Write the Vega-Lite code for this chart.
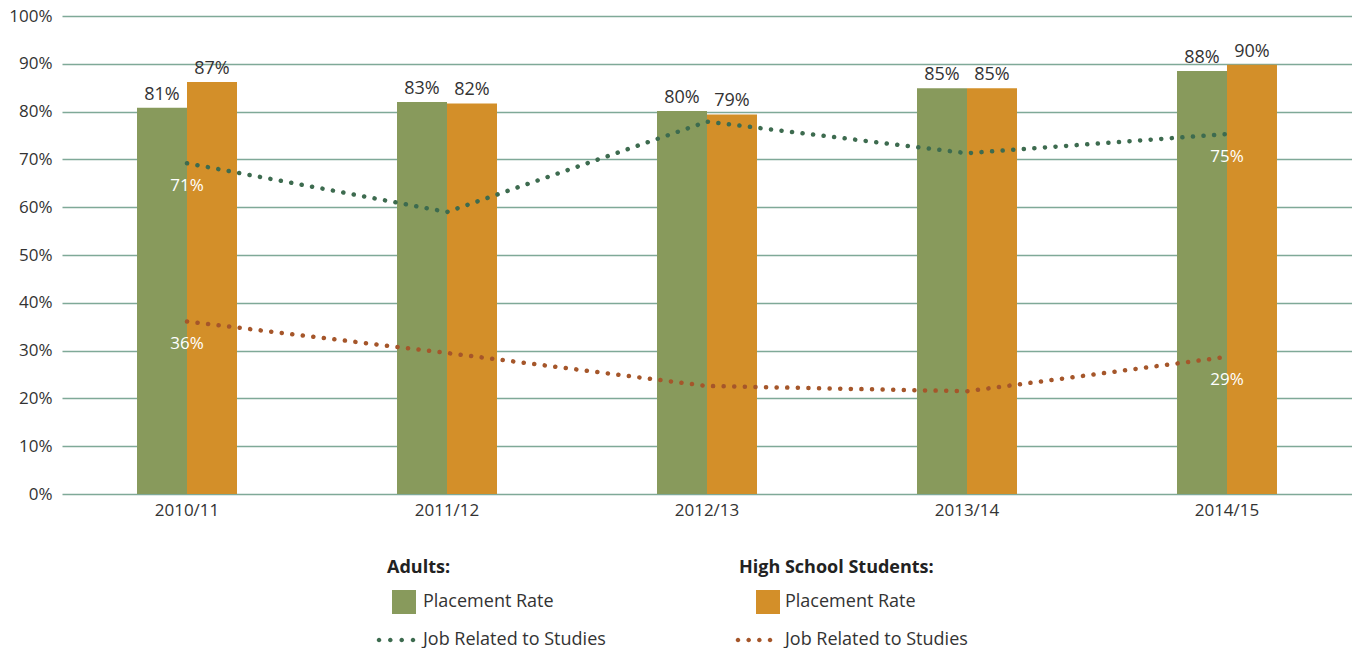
{
  "$schema": "https://vega.github.io/schema/vega-lite/v6.json",
  "autosize": "none",
  "width": 1290,
  "height": 478,
  "padding": {"left": 62, "top": 16, "right": 0, "bottom": 154},
  "background": "white",
  "config": {
    "view": {"stroke": null},
    "font": "Open Sans",
    "axis": {"labelFont": "Open Sans", "labelFontSize": 17, "labelColor": "#333333"}
  },
  "data": {
    "values": [
      {"year": "2010/11", "group": "Adults", "measure": "Placement Rate", "value": 80.8, "label": "81%"},
      {"year": "2011/12", "group": "Adults", "measure": "Placement Rate", "value": 82.0, "label": "83%"},
      {"year": "2012/13", "group": "Adults", "measure": "Placement Rate", "value": 80.1, "label": "80%"},
      {"year": "2013/14", "group": "Adults", "measure": "Placement Rate", "value": 84.9, "label": "85%"},
      {"year": "2014/15", "group": "Adults", "measure": "Placement Rate", "value": 88.5, "label": "88%"},
      {"year": "2010/11", "group": "HS", "measure": "Placement Rate", "value": 86.2, "label": "87%"},
      {"year": "2011/12", "group": "HS", "measure": "Placement Rate", "value": 81.7, "label": "82%"},
      {"year": "2012/13", "group": "HS", "measure": "Placement Rate", "value": 79.4, "label": "79%"},
      {"year": "2013/14", "group": "HS", "measure": "Placement Rate", "value": 84.9, "label": "85%"},
      {"year": "2014/15", "group": "HS", "measure": "Placement Rate", "value": 89.8, "label": "90%"},
      {"year": "2010/11", "group": "Adults", "measure": "Job Related to Studies", "value": 69.2, "label": "71%"},
      {"year": "2011/12", "group": "Adults", "measure": "Job Related to Studies", "value": 59.0, "label": ""},
      {"year": "2012/13", "group": "Adults", "measure": "Job Related to Studies", "value": 77.9, "label": ""},
      {"year": "2013/14", "group": "Adults", "measure": "Job Related to Studies", "value": 71.3, "label": ""},
      {"year": "2014/15", "group": "Adults", "measure": "Job Related to Studies", "value": 75.3, "label": "75%"},
      {"year": "2010/11", "group": "HS", "measure": "Job Related to Studies", "value": 36.1, "label": "36%"},
      {"year": "2011/12", "group": "HS", "measure": "Job Related to Studies", "value": 29.5, "label": ""},
      {"year": "2012/13", "group": "HS", "measure": "Job Related to Studies", "value": 22.6, "label": ""},
      {"year": "2013/14", "group": "HS", "measure": "Job Related to Studies", "value": 21.5, "label": ""},
      {"year": "2014/15", "group": "HS", "measure": "Job Related to Studies", "value": 28.7, "label": "29%"}
    ]
  },
  "encoding": {
    "x": {
      "field": "year", "type": "nominal",
      "scale": {"type": "band", "paddingInner": 0.6154, "paddingOuter": 0.2885},
      "axis": {"title": null, "domain": false, "ticks": false, "grid": false, "labelAngle": 0, "labelPadding": 8}
    },
    "y": {
      "field": "value", "type": "quantitative",
      "scale": {"domain": [0, 100], "nice": false},
      "axis": {
        "title": null, "domain": false, "ticks": false,
        "values": [0, 10, 20, 30, 40, 50, 60, 70, 80, 90, 100],
        "labelExpr": "datum.value + '%'",
        "labelPadding": 10,
        "gridColor": "#7fa998", "gridWidth": 1.5, "gridOpacity": 1
      }
    }
  },
  "layer": [
    {
      "transform": [{"filter": "datum.measure === 'Placement Rate'"}],
      "mark": {"type": "bar"},
      "encoding": {
        "xOffset": {"field": "group", "type": "nominal", "scale": {"domain": ["Adults", "HS"], "paddingInner": 0, "paddingOuter": 0}},
        "fill": {"field": "group", "type": "nominal", "scale": {"domain": ["Adults", "HS"], "range": ["#889a5c", "#d38f29"]}, "legend": null}
      }
    },
    {
      "transform": [{"filter": "datum.measure === 'Placement Rate'"}],
      "mark": {"type": "text", "baseline": "alphabetic", "dy": -8, "fontSize": 18, "color": "#333333", "font": "Open Sans"},
      "encoding": {
        "xOffset": {"field": "group", "type": "nominal", "scale": {"domain": ["Adults", "HS"], "paddingInner": 0, "paddingOuter": 0}},
        "text": {"field": "label"}
      }
    },
    {
      "transform": [{"filter": "datum.group === 'Adults' && datum.measure === 'Job Related to Studies'"}],
      "mark": {"type": "line", "color": "#3d6b4f", "strokeWidth": 4.5, "strokeCap": "round", "strokeDash": [0.1, 10.5]},
      "encoding": {}
    },
    {
      "transform": [{"filter": "datum.group === 'HS' && datum.measure === 'Job Related to Studies'"}],
      "mark": {"type": "line", "color": "#a5562a", "strokeWidth": 4.5, "strokeCap": "round", "strokeDash": [0.1, 10.5]},
      "encoding": {}
    },
    {
      "transform": [{"filter": "datum.group === 'Adults' && datum.measure === 'Job Related to Studies'"}],
      "mark": {"type": "point", "filled": true, "opacity": 0, "size": 1},
      "encoding": {
        "color": {
          "field": "measure", "type": "nominal",
          "scale": {"domain": ["Placement Rate", "Job Related to Studies"], "range": ["#889a5c", "#3d6b4f"]},
          "legend": {
            "title": "Adults:",
            "orient": "none", "legendX": 325, "legendY": 543,
            "padding": 0,
            "titleFont": "Open Sans", "titleFontSize": 18, "titleFontWeight": "bold", "titleColor": "#222222", "titleLimit": 400,
            "titlePadding": 13,
            "labelFont": "Open Sans", "labelFontSize": 18, "labelColor": "#333333", "labelLimit": 400,
            "symbolSize": 576, "symbolOffset": 5, "labelOffset": 7, "rowPadding": 14,
            "symbolStrokeWidth": 0, "symbolOpacity": 1
          }
        },
        "shape": {
          "field": "measure", "type": "nominal",
          "scale": {"domain": ["Placement Rate", "Job Related to Studies"], "range": ["square", "M-2.27,0a0.19,0.19 0 1,0 0.38,0a0.19,0.19 0 1,0 -0.38,0M-1.33,0a0.19,0.19 0 1,0 0.38,0a0.19,0.19 0 1,0 -0.38,0M-0.38,0a0.19,0.19 0 1,0 0.38,0a0.19,0.19 0 1,0 -0.38,0M0.56,0a0.19,0.19 0 1,0 0.38,0a0.19,0.19 0 1,0 -0.38,0"]},
          "legend": {
            "title": "Adults:",
            "orient": "none", "legendX": 325, "legendY": 543,
            "padding": 0,
            "titleFont": "Open Sans", "titleFontSize": 18, "titleFontWeight": "bold", "titleColor": "#222222", "titleLimit": 400,
            "titlePadding": 13,
            "labelFont": "Open Sans", "labelFontSize": 18, "labelColor": "#333333", "labelLimit": 400,
            "symbolSize": 576, "symbolOffset": 5, "labelOffset": 7, "rowPadding": 14,
            "symbolStrokeWidth": 0, "symbolOpacity": 1
          }
        }
      }
    },
    {
      "transform": [{"filter": "datum.group === 'HS' && datum.measure === 'Job Related to Studies'"}],
      "mark": {"type": "point", "filled": true, "opacity": 0, "size": 1},
      "encoding": {
        "color": {
          "field": "measure", "type": "nominal",
          "scale": {"domain": ["Placement Rate", "Job Related to Studies"], "range": ["#d38f29", "#a5562a"]},
          "legend": {
            "title": "High School Students:",
            "orient": "none", "legendX": 677, "legendY": 543,
            "padding": 0,
            "titleFont": "Open Sans", "titleFontSize": 18, "titleFontWeight": "bold", "titleColor": "#222222", "titleLimit": 400,
            "titlePadding": 13,
            "labelFont": "Open Sans", "labelFontSize": 18, "labelColor": "#333333", "labelLimit": 400,
            "symbolSize": 576, "symbolOffset": 17, "labelOffset": 5, "rowPadding": 14,
            "symbolStrokeWidth": 0, "symbolOpacity": 1
          }
        },
        "shape": {
          "field": "measure", "type": "nominal",
          "scale": {"domain": ["Placement Rate", "Job Related to Studies"], "range": ["square", "M-2.69,0a0.19,0.19 0 1,0 0.38,0a0.19,0.19 0 1,0 -0.38,0M-1.8,0a0.19,0.19 0 1,0 0.38,0a0.19,0.19 0 1,0 -0.38,0M-0.91,0a0.19,0.19 0 1,0 0.38,0a0.19,0.19 0 1,0 -0.38,0M-0.02,0a0.19,0.19 0 1,0 0.38,0a0.19,0.19 0 1,0 -0.38,0"]},
          "legend": {
            "title": "High School Students:",
            "orient": "none", "legendX": 677, "legendY": 543,
            "padding": 0,
            "titleFont": "Open Sans", "titleFontSize": 18, "titleFontWeight": "bold", "titleColor": "#222222", "titleLimit": 400,
            "titlePadding": 13,
            "labelFont": "Open Sans", "labelFontSize": 18, "labelColor": "#333333", "labelLimit": 400,
            "symbolSize": 576, "symbolOffset": 17, "labelOffset": 5, "rowPadding": 14,
            "symbolStrokeWidth": 0, "symbolOpacity": 1
          }
        }
      }
    },
    {
      "transform": [{"filter": "datum.measure === 'Job Related to Studies' && datum.label !== ''"}],
      "mark": {"type": "text", "baseline": "middle", "dy": 23, "fontSize": 17, "color": "white", "font": "Open Sans"},
      "encoding": {
        "text": {"field": "label"}
      }
    }
  ],
  "resolve": {"scale": {"color": "independent", "shape": "independent"}}
}
